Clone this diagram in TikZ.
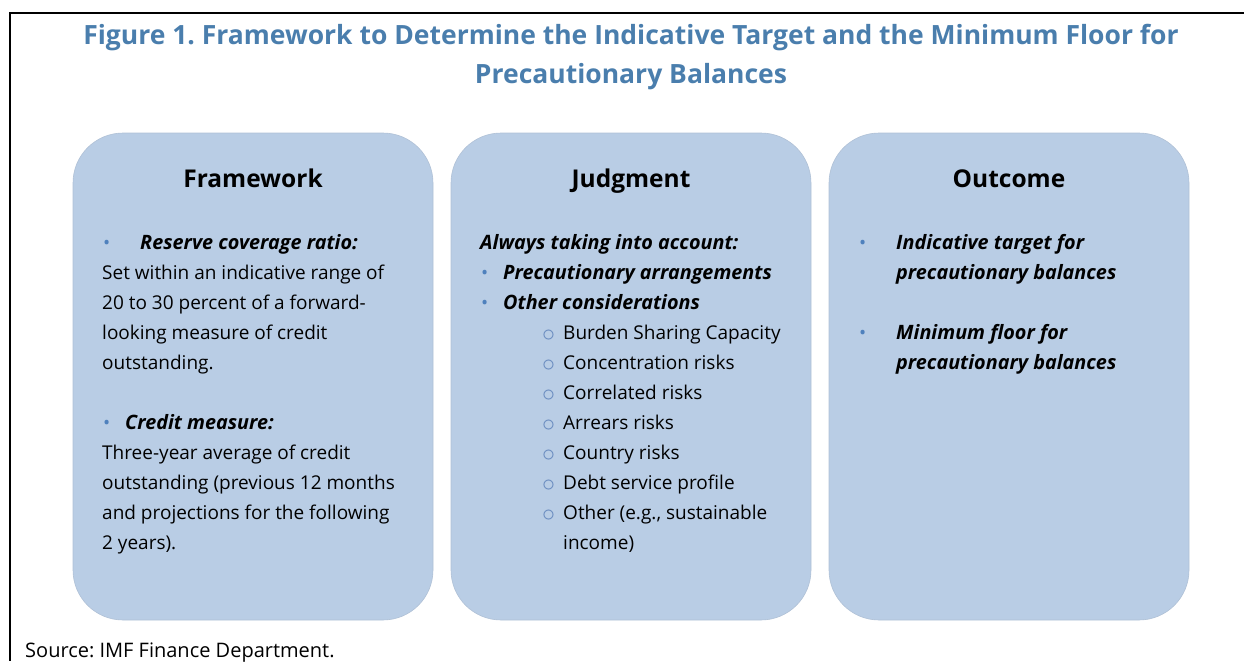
\documentclass[tikz,border=0pt]{standalone}
\usepackage{fontspec}
\usepackage{graphicx}
\setmainfont{Open Sans}
\usetikzlibrary{positioning}
\definecolor{PanelBlue}{HTML}{B9CDE5}
\definecolor{TitleBlue}{HTML}{4A7EAD}
\definecolor{DotBlue}{HTML}{4F81BD}
\definecolor{RingBlue}{HTML}{6A8CC0}
\frenchspacing
% bullets of fixed width, so the text after them starts where wanted
\newcommand{\dotb}[1]{\makebox[#1][l]{\textcolor{DotBlue}{\textbullet}}}
\newcommand{\ringb}{\makebox[21pt][l]{\textcolor{RingBlue}{\raisebox{-2.6pt}{\scalebox{1.5}{$\circ$}}}}}
\newcommand{\bi}[1]{{\fontsize{19.8}{30}\selectfont\bfseries\itshape #1}}

\begin{document}
\begin{tikzpicture}[x=1pt,y=-1pt,
    panel/.style={fill=PanelBlue,draw=PanelBlue!85!gray,line width=.6pt,rounded corners=50pt},
    head/.style={anchor=base,font=\fontsize{24.5}{28}\selectfont\bfseries},
    body/.style={anchor=north west,inner sep=0pt,align=left,font=\fontsize{19}{30}\selectfont}]
        \useasboundingbox (0,0) rectangle (1244,661);
        % frame
        \draw[line width=2pt] (1244,13) -- (10,13) -- (10,661);
        \node[font=\fontsize{26.5}{39}\selectfont\bfseries,text=TitleBlue,align=center] (title) at (631,57)
            {Figure 1. Framework to Determine the Indicative Target and the Minimum Floor for\\Precautionary Balances};
        % three panels
        \foreach \x in {73,451,829}
        {
            \draw[panel] (\x,133) rectangle (\x+360,620);
        }
        \node[head] (fwhead) at (253,187) {Framework};
        \node[head] (jdhead) at (631,187) {Judgment};
        \node[head] (ochead) at (1009,187) {Outcome};

        \node[body] (fwtext) at (102,234)
            {\hspace*{1pt}\dotb{37pt}\bi{Reserve coverage ratio:}\\
             Set within an indicative range of\\
             20 to 30 percent of a forward-\\
             looking measure of credit\\
             outstanding.\\[30pt]
             \hspace*{1pt}\dotb{22pt}\bi{Credit measure:}\\
             Three-year average of credit\\
             outstanding (previous 12 months\\
             and projections for the following\\
             2 years).};
        \node[body] (jdtext) at (480,234)
            {\bi{Always taking into account:}\\
             \hspace*{1pt}\dotb{22pt}\bi{Precautionary arrangements}\\
             \hspace*{1pt}\dotb{22pt}\bi{Other considerations}\\
             \hspace*{62pt}\ringb Burden Sharing Capacity\\
             \hspace*{62pt}\ringb Concentration risks\\
             \hspace*{62pt}\ringb Correlated risks\\
             \hspace*{62pt}\ringb Arrears risks\\
             \hspace*{62pt}\ringb Country risks\\
             \hspace*{62pt}\ringb Debt service profile\\
             \hspace*{62pt}\ringb Other (e.g., sustainable\\
             \hspace*{83pt}income)};
        \node[body] (octext) at (858,234)
            {\hspace*{1pt}\dotb{37pt}\bi{Indicative target for}\\
             \hspace*{38pt}\bi{precautionary balances}\\[30pt]
             \hspace*{1pt}\dotb{37pt}\bi{Minimum floor for}\\
             \hspace*{38pt}\bi{precautionary balances}};
        \node[anchor=west,inner sep=0pt,font=\fontsize{20}{24}\selectfont] (source) at (25,653)
            {Source: IMF Finance Department.};
\end{tikzpicture}
\end{document}
